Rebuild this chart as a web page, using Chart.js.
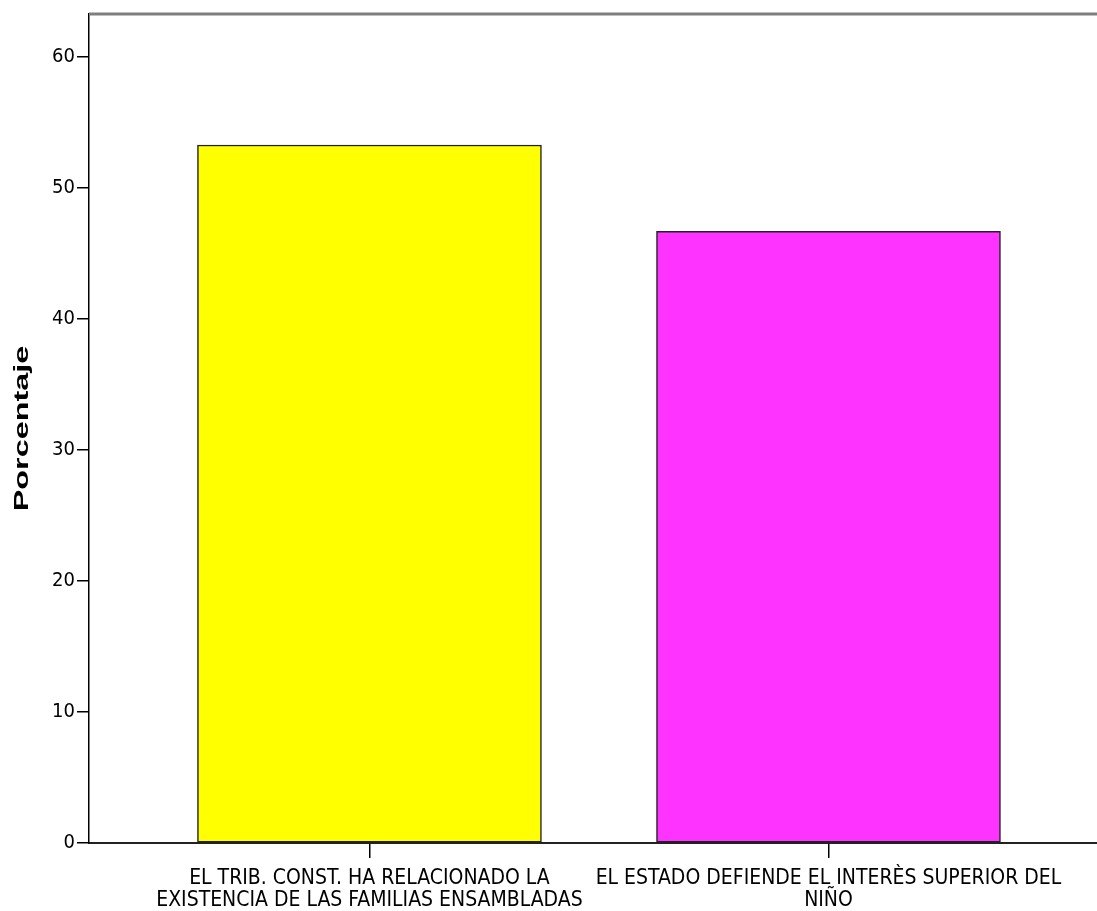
<!DOCTYPE html>
<html>
<head>
<meta charset="utf-8">
<script src="https://cdn.jsdelivr.net/npm/chart.js@4.4.1/dist/chart.umd.min.js"></script>
<style>
html,body{margin:0;padding:0;background:#fff;overflow:hidden;}
canvas{display:block;}
</style>
</head>
<body>
<canvas id="c" width="1097" height="911"></canvas>
<script>
// ---- data ----
const categories = [
  ['EL TRIB. CONST. HA RELACIONADO LA', 'EXISTENCIA DE LAS FAMILIAS ENSAMBLADAS'],
  ['EL ESTADO DEFIENDE EL INTERÈS SUPERIOR DEL', 'NIÑO']
];
const percentages = [53.3, 46.7];
const barColors = ['#FFFF00', '#FF33FF'];
const yTitle = 'Porcentaje';
const yTickValues = [0, 10, 20, 30, 40, 50, 60];

const FONT = "'Liberation Sans Narrow', 'Arial Narrow', 'DejaVu Sans Condensed', sans-serif";

const decorPlugin = {
  id: 'decor',
  afterDraw(chart) {
    const ctx = chart.ctx;
    const a = chart.chartArea;
    ctx.save();
    ctx.strokeStyle = '#7f7f7f';
    ctx.lineWidth = 3;
    ctx.beginPath();
    ctx.moveTo(a.left, a.top);
    ctx.lineTo(a.right, a.top);
    ctx.stroke();
    ctx.restore();
    // y axis title (wide, as in the reference)
    ctx.save();
    ctx.translate(23, (a.top + a.bottom) / 2);
    ctx.rotate(-Math.PI / 2);
    ctx.scale(1.66, 1);
    ctx.font = "bold 19.5px 'Liberation Sans', Arial, sans-serif";
    ctx.fillStyle = '#000';
    ctx.textAlign = 'center';
    ctx.textBaseline = 'middle';
    ctx.fillText(yTitle, 0, 0);
    ctx.restore();
  }
};

new Chart(document.getElementById('c'), {
  type: 'bar',
  data: {
    datasets: [{
      data: percentages.map((v, i) => ({ x: i, y: v })),
      backgroundColor: barColors,
      borderColor: '#222',
      borderWidth: 1.5,
      borderSkipped: false,
      barThickness: 344
    }]
  },
  options: {
    responsive: false,
    animation: false,
    layout: { padding: { top: 14, right: 0, bottom: 0, left: 0 } },
    plugins: { legend: { display: false }, tooltip: { enabled: false }, title: { display: false } },
    scales: {
      x: {
        type: 'linear',
        offset: false,
        min: -0.611,
        max: 1.585,
        afterBuildTicks(scale) { scale.ticks = categories.map((_, i) => ({ value: i })); },
        afterFit(scale) { scale.height = 68; },
        ticks: {
          autoSkip: false,
          maxRotation: 0,
          minRotation: 0,
          padding: 9,
          color: '#000',
          font: { family: FONT, size: 21, lineHeight: 1.07 },
          callback: (v) => categories[v]
        },
        grid: { display: true, offset: false, drawOnChartArea: false, drawTicks: true, tickLength: 15, color: '#000', lineWidth: 1.5 },
        border: { display: true, color: '#222', width: 2 }
      },
      y: {
        min: 0,
        max: 63.3,
        afterBuildTicks(scale) { scale.ticks = yTickValues.map(v => ({ value: v })); },
        afterFit(scale) { scale.width = 89; },
        ticks: {
          padding: 2,
          color: '#000',
          font: { family: FONT, size: 20 }
        },
        grid: { display: true, drawOnChartArea: false, drawTicks: true, tickLength: 12, color: '#000', lineWidth: 1.5 },
        border: { display: true, color: '#000', width: 1.5 }
      }
    }
  },
  plugins: [decorPlugin]
});
</script>
</body>
</html>
